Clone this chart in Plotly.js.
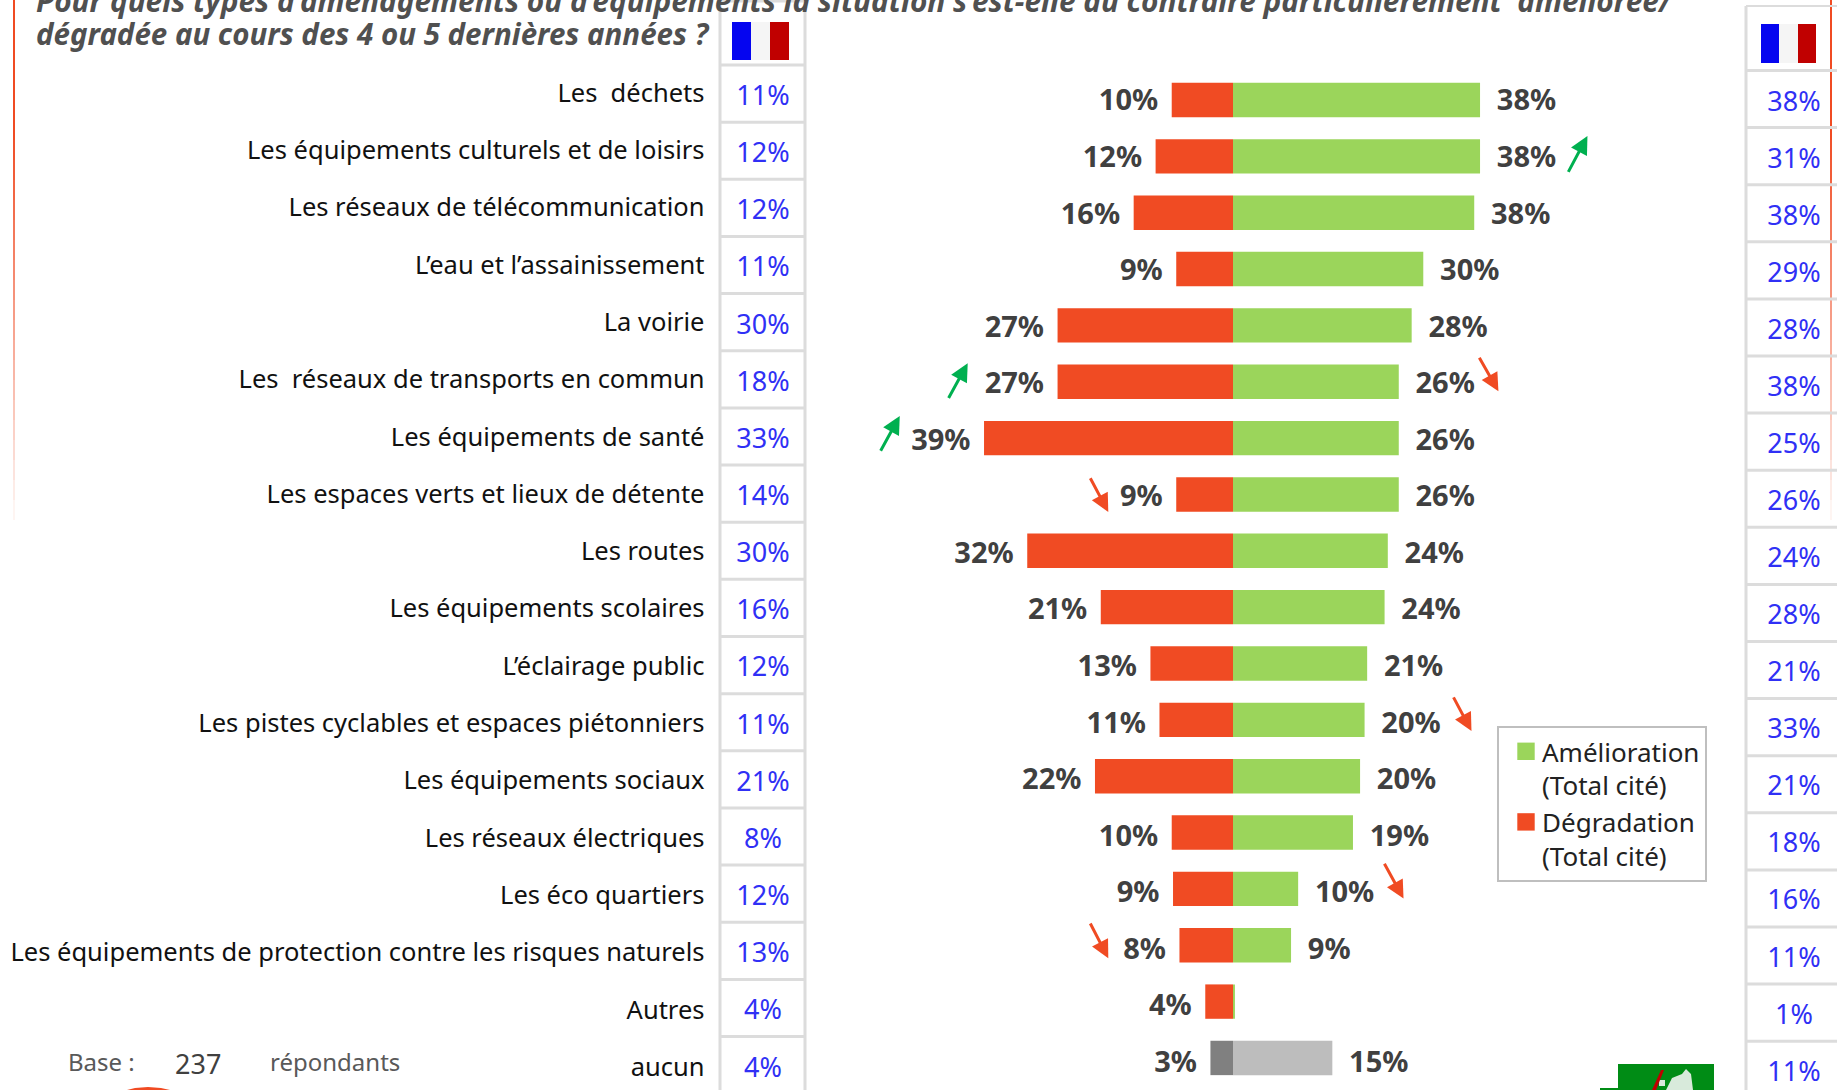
<!DOCTYPE html>
<html><head><meta charset="utf-8">
<script src="https://cdn.plot.ly/plotly-3.0.1.min.js"></script>
<style>html,body{margin:0;padding:0;background:#fff;overflow:hidden}
.legendpoints path{transform:translate(27px,-17px) scale(1.45)}</style>
</head><body><div id="chart" style="width:1837px;height:1090px"></div>
<script>
const categories = ["Les\u00a0 déchets","Les équipements culturels et de loisirs","Les réseaux de télécommunication","L’eau et l’assainissement","La voirie","Les\u00a0 réseaux de transports en commun","Les équipements de santé","Les espaces verts et lieux de détente","Les routes","Les équipements scolaires","L’éclairage public","Les pistes cyclables et espaces piétonniers","Les équipements sociaux","Les réseaux électriques","Les éco quartiers","Les équipements de protection contre les risques naturels","Autres","aucun"];
const ameliorationBars = [38.3,38.3,37.4,29.5,27.7,25.7,25.7,25.7,24,23.5,20.8,20.4,19.7,18.6,10.1,9,0.3,15.4];
const degradationBars  = [9.5,12,15.4,8.8,27.2,27.2,38.6,8.8,31.9,20.5,12.8,11.4,21.4,9.5,9.3,8.3,4.3,3.5];
const ameliorationLabels = ["38%","38%","38%","30%","28%","26%","26%","26%","24%","24%","21%","20%","20%","19%","10%","9%","","15%"];
const degradationLabels  = ["10%","12%","16%","9%","27%","27%","39%","9%","32%","21%","13%","11%","22%","10%","9%","8%","4%","3%"];
const franceDegradation = ["11%","12%","12%","11%","30%","18%","33%","14%","30%","16%","12%","11%","21%","8%","12%","13%","4%","4%"];
const franceAmelioration = ["38%","31%","38%","29%","28%","38%","25%","26%","24%","28%","21%","33%","21%","18%","16%","11%","1%","11%"];
const titleLines = ["Pour quels types d’aménagements ou d’équipements la situation s’est-elle au contraire particulièrement\u00a0 améliorée/","dégradée au cours des 4 ou 5 dernières années ?"];
const legendNames = ["Amélioration<br>(Total cité)","Dégradation<br>(Total cité)"];

const W=1837,H=1090, K=1837/1568;
const GREEN="#9bd55b",RED="#f04b23",GREY_L="#bdbdbd",GREY_D="#808080",BLUE="#3030f5",DARK="#404040";
const FONT="'Noto Sans', sans-serif";
const X=p=>p/W, Y=p=>1-p/H;
const n=categories.length;
const ZERO=1233,PXPER=6.45;
const rowAxis=(y0,dy)=>({type:'category',categoryorder:'array',categoryarray:categories,range:[(H-y0)/dy,-y0/dy],fixedrange:true,showgrid:false,zeroline:false});

const traces=[
 {type:'bar',orientation:'h',name:legendNames[0],y:categories,x:ameliorationBars,
  marker:{color:categories.map((_,i)=>i===n-1?GREY_L:GREEN),line:{width:0}},width:0.61,hoverinfo:'skip'},
 {type:'bar',orientation:'h',name:legendNames[1],y:categories,x:degradationBars.map(v=>-v),
  marker:{color:categories.map((_,i)=>i===n-1?GREY_D:RED),line:{width:0}},width:0.61,hoverinfo:'skip'},
 {type:'scatter',mode:'text',showlegend:false,yaxis:'y5',y:categories,x:ameliorationBars.map(v=>v+2.6),text:ameliorationLabels,textposition:'middle right',
  textfont:{family:FONT,size:29,color:DARK,weight:700},cliponaxis:false,hoverinfo:'skip'},
 {type:'scatter',mode:'text',showlegend:false,yaxis:'y5',y:categories,x:degradationBars.map(v=>-v-2.1),text:degradationLabels,textposition:'middle left',
  textfont:{family:FONT,size:29,color:DARK,weight:700},cliponaxis:false,hoverinfo:'skip'},
 {type:'scatter',mode:'text',showlegend:false,xaxis:'x2',yaxis:'y2',y:categories,x:categories.map(()=>763),text:franceDegradation,textposition:'middle center',
  textfont:{family:FONT,size:27,color:BLUE},hoverinfo:'skip'},
 {type:'scatter',mode:'text',showlegend:false,xaxis:'x2',yaxis:'y3',y:categories,x:categories.map(()=>1794),text:franceAmelioration,textposition:'middle center',
  textfont:{family:FONT,size:27,color:BLUE},hoverinfo:'skip'},
 {type:'scatter',mode:'markers',showlegend:false,xaxis:'x2',yaxis:'y4',y:categories,x:categories.map(()=>700),marker:{opacity:0,size:1},hoverinfo:'skip'}
];

const shapes=[];
const line=(x0,y0,x1,y1,color,w,op)=>shapes.push({type:'line',xref:'paper',yref:'paper',layer:'below',x0:X(x0),y0:Y(y0),x1:X(x1),y1:Y(y1),line:{color,width:w},opacity:op===undefined?1:op});
const rect=(x0,y0,x1,y1,color)=>shapes.push({type:'rect',xref:'paper',yref:'paper',layer:'below',x0:X(x0),y0:Y(y0),x1:X(x1),y1:Y(y1),fillcolor:color,line:{width:0}});
for(let i=0;i<26;i++){const a=i*20,b=a+20,op=i<6?1:Math.max(0,1-(i-6)/20);
  line(14,a,14,b,RED,2,op); line(1831,a,1831,b,RED,2,op);}
const GRID="#dcdcdc";
line(720,1,720,H,GRID,3); line(805,1,805,H,GRID,3); line(720,1,805,1,GRID,3);
for(let i=0;i<18;i++) line(720,65+57.15*i,805,65+57.15*i,GRID,3);
line(1746,6,1746,H,GRID,3); line(1746,6,W,6,GRID,2);
for(let i=0;i<18;i++) line(1746,70.5+57.1*i,W,70.5+57.1*i,GRID,3);
rect(732,22,751,60,"#0505f0");rect(751,22,770,60,"#f5f5f5");rect(770,22,789,60,"#c00000");
rect(1761,24,1779,63,"#0505f0");rect(1779,24,1798,63,"#f5f5f5");rect(1798,24,1816,63,"#c00000");
rect(1618,1064,1714,1090,"#008c15");rect(1600,1088,1618,1090,"#008c15");
const path=(pts,color)=>shapes.push({type:'path',xref:'paper',yref:'paper',layer:'below',path:'M'+pts.map(p=>X(p[0])+','+Y(p[1])).join(' L')+' Z',fillcolor:color,line:{width:0}});
path([[1666,1090],[1672,1078],[1682,1074],[1686,1069],[1691,1074],[1693,1090]],"#d8eadb");
rect(1659,1080,1665,1086,"#d8eadb");
path([[1661,1070],[1664,1070],[1656,1090],[1652,1090]],"#c00000");
path([[127,1090],[135,1088],[148,1087],[161,1088],[170,1090]],RED);

const arrows=[[1338,148,1355,116,'#00b050'],[1262,304,1279,334,RED],[809,341,826,310,'#00b050'],[751,386,768,355,'#00b050'],[930,407,946,437,RED],[1240,594,1256,624,RED],[1181,736,1198,767,RED],[930,787,946,818,RED]];
const annotations=arrows.map(a=>({xref:'paper',yref:'paper',x:X(a[2]*K),y:Y(a[3]*K),ax:(a[0]-a[2])*K,ay:(a[1]-a[3])*K,axref:'pixel',ayref:'pixel',text:'',showarrow:true,arrowhead:2,arrowsize:1.2,arrowwidth:3,arrowcolor:a[4],standoff:0}));
const txt=(s,x,y,size,color,extra)=>annotations.push(Object.assign({xref:'paper',yref:'paper',x:X(x),y:Y(y),text:s,showarrow:false,xanchor:'left',yanchor:'middle',font:{family:FONT,size,color}},extra||{}));
txt('<b><i>'+titleLines[0]+'</i></b>',34,0,29.8,"#505050");
txt('<b><i>'+titleLines[1]+'</i></b>',34,34,29.5,"#505050");
txt('Base :',66,1061,24,"#595959");
txt('237',173,1063,27,"#404040");
txt('répondants',268,1061,24,"#595959");

const layout={width:W,height:H,margin:{l:0,r:0,t:0,b:0},paper_bgcolor:'#fff',plot_bgcolor:'rgba(0,0,0,0)',barmode:'overlay',showlegend:true,
 font:{family:FONT},
 legend:{x:X(1497),y:Y(726),xanchor:'left',yanchor:'top',bordercolor:'#bfbfbf',borderwidth:2,bgcolor:'#fff',font:{family:FONT,size:26,color:'#222'},traceorder:'normal',itemwidth:33,tracegroupgap:0,entrywidth:184,entrywidthmode:'pixels'},
 xaxis:{domain:[0,1],range:[-ZERO/PXPER,(W-ZERO)/PXPER],visible:false,fixedrange:true},
 xaxis2:{domain:[0,1],overlaying:'x',range:[0,W],visible:false,fixedrange:true},
 yaxis:Object.assign(rowAxis(100,56.35),{visible:false}),
 yaxis2:Object.assign(rowAxis(98.2,57.15),{overlaying:'y',visible:false}),
 yaxis3:Object.assign(rowAxis(104,57.05),{overlaying:'y',visible:false}),
 yaxis4:Object.assign(rowAxis(92.8,57.3),{overlaying:'y',anchor:'free',position:X(704.5),side:'left',ticks:'',showline:false,tickfont:{family:FONT,size:25.5,color:'#111'},automargin:false,dtick:1}),
 yaxis5:Object.assign(rowAxis(103.2,56.56),{overlaying:'y',visible:false}),
 shapes,annotations};
Plotly.newPlot('chart',traces,layout,{displayModeBar:false,staticPlot:true});
</script></body></html>
